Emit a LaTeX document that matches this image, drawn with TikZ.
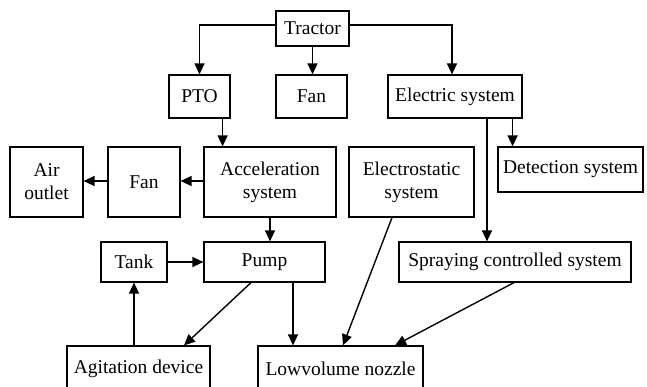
\documentclass[tikz,border=0pt]{standalone}
\usepackage{fontspec}
\setmainfont{Liberation Serif}
\usetikzlibrary{arrows.meta,calc}
\begin{document}
\begin{tikzpicture}[x=1pt,y=-1pt,
  box/.style={draw,line width=1.2pt,rectangle,inner sep=0pt,align=center,
    font=\fontsize{19.5}{23}\selectfont},
  arr/.style={line width=1.4pt,-{Triangle[length=11pt,width=10pt]}}]
\useasboundingbox (0,0) rectangle (647,387);
\clip (0,0) rectangle (647,387);
\node[box,minimum width=73,minimum height=35] (tractor) at (312.5,28.5) {Tractor};
\node[box,minimum width=61,minimum height=43] (pto) at (199.5,96.5) {PTO};
\node[box,minimum width=71,minimum height=43] (fan1) at (311.5,96.5) {Fan};
\node[box,minimum width=134,minimum height=43] (elec) at (455,96.5) {Electric system};
\node[box,minimum width=73,minimum height=70] (air) at (46.5,182) {Air\\outlet};
\node[box,minimum width=72,minimum height=70] (fan2) at (144,182) {Fan};
\node[box,minimum width=132,minimum height=70] (accel) at (270,182) {Acceleration\\system};
\node[box,minimum width=125,minimum height=70] (estat) at (411.5,182) {Electrostatic\\system};
\node[box,minimum width=145,minimum height=45] (detect) at (570.5,169.5) {Detection system};
\node[box,minimum width=66,minimum height=40] (tank) at (134,262) {Tank};
\node[box,minimum width=121,minimum height=40] (pump) at (264.5,262) {Pump};
\node[box,minimum width=232,minimum height=40] (spray) at (515,262) {Spraying controlled system};
\node[box,minimum width=143,minimum height=46] (agit) at (138.5,369) {Agitation device};
\node[box,minimum width=165,minimum height=46] (low) at (340.5,369) {Lowvolume nozzle};

\draw[arr] ([yshift=3.5]tractor.west) -| (pto.north);
\draw[arr] (tractor.south) -- (tractor.south |- fan1.north);
\draw[arr] ([yshift=3.5]tractor.east) -| ([xshift=-3]elec.north);
\draw[arr] ([xshift=-8]pto.south east) -- ([xshift=-8]pto.south east |- accel.north);
\draw[arr] ([yshift=1]accel.west) -- ([yshift=1]fan2.east);
\draw[arr] ([yshift=1]fan2.west) -- ([yshift=1]air.east);
\draw[arr] ([xshift=-10]elec.south east) -- ([xshift=-10]elec.south east |- detect.north);
\draw[arr] ([xshift=32]elec.south) -- ([xshift=32]elec.south |- spray.north);
\draw[arr] (accel.south) -- (accel.south |- pump.north);
\draw[arr] (tank.east) -- (pump.west);
\draw[arr] (agit.north -| tank.south) -- (tank.south);
\draw[arr] ([xshift=-13.5]pump.south) -- ([xshift=45.5]agit.north);
\draw[arr] ([xshift=28.5]pump.south) -- ([xshift=28.5]pump.south |- low.north);
\draw[arr] ([xshift=-19.5]estat.south) -- ([xshift=2.5]low.north);
\draw[arr] ([xshift=-1]spray.south) -- ([xshift=54.5]low.north);
\end{tikzpicture}
\end{document}
